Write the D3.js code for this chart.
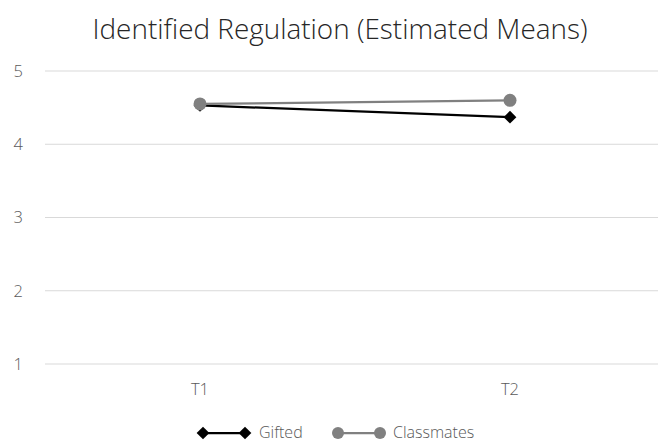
<!DOCTYPE html>
<html>
<head>
<meta charset="utf-8">
<script src="https://cdn.jsdelivr.net/npm/d3@7"></script>
<style>
  html, body { margin: 0; padding: 0; background: #fff; }
  svg { display: block; font-family: "Open Sans", "Noto Sans", sans-serif; }
</style>
</head>
<body>
<svg id="chart" width="659" height="443"></svg>
<script>
// Estimated means per measurement point
const timepoints = ["T1", "T2"];
const giftedValues = [4.53, 4.37];
const classmatesValues = [4.55, 4.60];
const yTicks = [1, 2, 3, 4, 5];
const seriesNames = ["Gifted", "Classmates"];

const svg = d3.select("#chart");
const W = 659, H = 443;
const margin = { left: 45, right: -6, top: 71, bottom: 79 };

const x = d3.scaleBand().domain(timepoints).range([margin.left, W - margin.right]);
const y = d3.scaleLinear().domain([1, 5]).range([H - margin.bottom, margin.top]);

// Title
svg.append("text")
  .attr("x", 340).attr("y", 39)
  .attr("text-anchor", "middle")
  .attr("font-size", 28)
  .attr("font-weight", 300)
  .attr("fill", "#262626")
  .attr("textLength", 495)
  .attr("lengthAdjust", "spacingAndGlyphs")
  .text("Identified Regulation (Estimated Means)");

// Horizontal gridlines
svg.append("g").selectAll("line").data(yTicks).join("line")
  .attr("x1", margin.left).attr("x2", 658)
  .attr("y1", d => y(d)).attr("y2", d => y(d))
  .attr("stroke", "#d9d9d9").attr("stroke-width", 1);

// Y axis labels
const yAxis = d3.axisLeft(y).tickValues(yTicks).tickFormat(d3.format("d")).tickSize(0).tickPadding(0);
const gy = svg.append("g").attr("transform", `translate(23,0)`).call(yAxis);
gy.select(".domain").remove();
gy.attr("font-size", 16.5).attr("font-family", "'Open Sans', sans-serif");
gy.selectAll("text").attr("fill", "#595959").attr("font-weight", 300);

// X axis labels
const xAxis = d3.axisBottom(x).tickSize(0).tickPadding(0);
const gx = svg.append("g").attr("transform", `translate(0,${y(1) + 19})`).call(xAxis);
gx.select(".domain").remove();
gx.attr("font-size", 16.5).attr("font-family", "'Open Sans', sans-serif");
gx.selectAll("text").attr("fill", "#595959").attr("font-weight", 300);

const cx = d => x(d) + x.bandwidth() / 2;
const line = d3.line().x(d => cx(d.t)).y(d => y(d.v));

const gifted = timepoints.map((t, i) => ({ t, v: giftedValues[i] }));
const classmates = timepoints.map((t, i) => ({ t, v: classmatesValues[i] }));

function drawDiamond(g, px, py) {
  g.append("rect")
    .attr("x", -4.5).attr("y", -4.5).attr("width", 9).attr("height", 9)
    .attr("transform", `translate(${px},${py}) rotate(45)`)
    .attr("fill", "#000");
}

// Gifted series
svg.append("path").datum(gifted).attr("d", line)
  .attr("fill", "none").attr("stroke", "#000").attr("stroke-width", 2.25);
gifted.forEach(d => drawDiamond(svg, cx(d.t), y(d.v)));

// Classmates series
svg.append("path").datum(classmates).attr("d", line)
  .attr("fill", "none").attr("stroke", "#808080").attr("stroke-width", 2.25);
svg.append("g").selectAll("circle").data(classmates).join("circle")
  .attr("cx", d => cx(d.t)).attr("cy", d => y(d.v)).attr("r", 6.5)
  .attr("fill", "#808080");

// Legend
const ly = 433;
const lg = svg.append("g");
lg.append("line").attr("x1", 203).attr("x2", 245).attr("y1", ly).attr("y2", ly)
  .attr("stroke", "#000").attr("stroke-width", 2.25);
drawDiamond(lg, 203, ly);
drawDiamond(lg, 245, ly);
lg.append("text").attr("x", 259).attr("y", ly + 5).attr("font-size", 16)
  .attr("fill", "#595959").attr("font-weight", 300).text(seriesNames[0]);

lg.append("line").attr("x1", 338).attr("x2", 380).attr("y1", ly).attr("y2", ly)
  .attr("stroke", "#808080").attr("stroke-width", 2.25);
lg.append("circle").attr("cx", 338).attr("cy", ly).attr("r", 6).attr("fill", "#808080");
lg.append("circle").attr("cx", 380).attr("cy", ly).attr("r", 6).attr("fill", "#808080");
lg.append("text").attr("x", 393).attr("y", ly + 5).attr("font-size", 16)
  .attr("fill", "#595959").attr("font-weight", 300).text(seriesNames[1]);
</script>
</body>
</html>
